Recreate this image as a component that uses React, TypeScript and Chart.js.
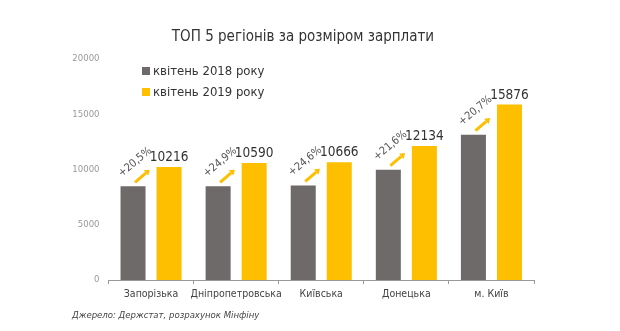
import React, { useEffect, useRef } from "react";
import { Chart, registerables } from "chart.js";

Chart.register(...registerables);

const categories = ["Запорізька", "Дніпропетровська", "Київська", "Донецька", "м. Київ"];
const values2018 = [8480, 8480, 8560, 9980, 13150];
const values2019 = [10216, 10590, 10666, 12134, 15876];
const growthLabels = ["+20,5%", "+24,9%", "+24,6%", "+21,6%", "+20,7%"];
const seriesLabels = ["квітень 2018 року", "квітень 2019 року"];
const yTickValues = [0, 5000, 10000, 15000, 20000];
const titleText = "ТОП 5 регіонів за розміром зарплати";
const sourceText = "Джерело: Держстат, розрахунок Мінфіну";

const GRAY = "#6d6a69";
const YELLOW = "#fdbf00";
const FONT = "'DejaVu Sans Condensed', 'Roboto', sans-serif";

const overlayPlugin = {
  id: "overlay",
  afterDraw(chart: any) {
    const ctx = chart.ctx;
    ctx.save();
    // title
    ctx.fillStyle = "#333";
    ctx.font = `15px ${FONT}`;
    ctx.textAlign = "center";
    ctx.textBaseline = "middle";
    ctx.fillText(titleText, 303, 37);

    // legend
    const colors = [GRAY, YELLOW];
    const rows = [71, 92];
    ctx.font = `13px ${FONT}`;
    ctx.textAlign = "left";
    chart.data.datasets.forEach((ds: any, i: number) => {
      ctx.fillStyle = colors[i];
      ctx.fillRect(142, rows[i] - 4, 8, 8);
      ctx.fillStyle = "#333";
      ctx.fillText(ds.label, 153, rows[i] + 1);
    });

    // source
    ctx.font = `italic 9.5px ${FONT}`;
    ctx.fillStyle = "#444";
    ctx.textAlign = "left";
    ctx.fillText(sourceText, 72, 316);

    // annotations
    const m0 = chart.getDatasetMeta(0).data;
    const m1 = chart.getDatasetMeta(1).data;
    m1.forEach((bar: any, i: number) => {
      // value label
      ctx.font = `13.5px ${FONT}`;
      ctx.fillStyle = "#333";
      ctx.textAlign = "center";
      ctx.textBaseline = "alphabetic";
      ctx.fillText(String(values2019[i]), bar.x, bar.y - 6);

      const g = m0[i];
      const sx = g.x + 2;
      const sy = g.y - 4;
      const ex = sx + 14;
      const ey = sy - 12;
      // arrow shaft
      ctx.strokeStyle = YELLOW;
      ctx.lineWidth = 3;
      ctx.lineCap = "butt";
      const ang = Math.atan2(ey - sy, ex - sx);
      const hx = ex - Math.cos(ang) * 4;
      const hy = ey - Math.sin(ang) * 4;
      ctx.beginPath();
      ctx.moveTo(sx, sy);
      ctx.lineTo(hx, hy);
      ctx.stroke();
      // head
      ctx.fillStyle = YELLOW;
      ctx.beginPath();
      ctx.moveTo(ex + Math.cos(ang) * 1, ey + Math.sin(ang) * 1);
      ctx.lineTo(hx + Math.cos(ang + Math.PI / 2) * 3.5, hy + Math.sin(ang + Math.PI / 2) * 3.5);
      ctx.lineTo(hx + Math.cos(ang - Math.PI / 2) * 3.5, hy + Math.sin(ang - Math.PI / 2) * 3.5);
      ctx.closePath();
      ctx.fill();

      // growth label
      ctx.save();
      ctx.translate(g.x + 2, g.y - 24);
      ctx.rotate((-40 * Math.PI) / 180);
      ctx.font = `11px ${FONT}`;
      ctx.fillStyle = "#555";
      ctx.textAlign = "center";
      ctx.textBaseline = "middle";
      ctx.fillText(growthLabels[i], 0, 0);
      ctx.restore();
    });
    ctx.restore();
  },
};

export default function App() {
  const ref = useRef<HTMLCanvasElement>(null);
  useEffect(() => {
    if (!ref.current) return;
    const chart = new Chart(ref.current, {
      type: "bar",
      data: {
        labels: categories,
        datasets: [
          {
            label: seriesLabels[0],
            data: values2018,
            backgroundColor: GRAY,
            barPercentage: 0.694,
            categoryPercentage: 0.847,
          },
          {
            label: seriesLabels[1],
            data: values2019,
            backgroundColor: YELLOW,
            barPercentage: 0.694,
            categoryPercentage: 0.847,
          },
        ],
      },
      options: {
        responsive: false,
        animation: false,
        layout: { padding: { top: 59, right: 86, bottom: 27, left: 0 } },
        plugins: {
          legend: { display: false },
          title: { display: false },
          tooltip: { enabled: false },
        },
        scales: {
          x: {
            grid: {
              display: true,
              drawOnChartArea: false,
              drawTicks: true,
              tickLength: 4,
              offset: true,
              color: "#999",
            },
            border: { display: true, color: "#999", width: 1 },
            ticks: {
              font: { family: FONT, size: 10.5 },
              color: "#444",
              padding: 4,
              maxRotation: 0,
              autoSkip: false,
            },
            afterFit(scale: any) {
              scale.height = 24;
            },
          },
          y: {
            min: 0,
            max: 20000,
            grid: { display: false, drawTicks: false },
            border: { display: false },
            afterBuildTicks(scale: any) {
              scale.ticks = yTickValues.map((v) => ({ value: v }));
            },
            ticks: {
              font: { family: FONT, size: 9.5 },
              color: "#999",
              padding: 9,
              callback: (v: any) => String(v),
            },
            afterFit(scale: any) {
              scale.width = 108.5;
            },
          },
        },
      },
      plugins: [overlayPlugin],
    });
    return () => chart.destroy();
  }, []);
  return (
    <div style={{ position: "fixed", left: 0, top: 0, width: 620, height: 331, background: "#fff" }}>
      <canvas ref={ref} width={620} height={331} />
    </div>
  );
}
